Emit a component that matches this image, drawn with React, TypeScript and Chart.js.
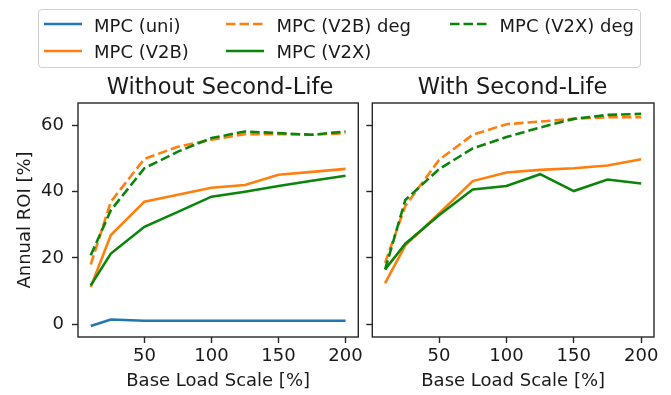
import React, { useEffect, useRef } from 'react';
import { Chart, registerables } from 'chart.js';

Chart.register(...registerables);

// ---------- data ----------
const X_VALUES = [10, 25, 50, 75, 100, 125, 150, 175, 200];

// Without Second-Life
const NOSL_UNI = [-0.6, 1.4, 1.0, 1.0, 1.0, 1.0, 1.0, 1.0, 1.0];
const NOSL_V2B = [11.2, 26.9, 37.0, 39.1, 41.2, 42.0, 45.1, 46.0, 46.9];
const NOSL_V2B_DEG = [18.0, 37.0, 49.9, 53.6, 55.7, 57.4, 57.4, 57.2, 57.7];
const NOSL_V2X = [11.7, 21.3, 29.4, 33.9, 38.5, 40.0, 41.7, 43.3, 44.8];
const NOSL_V2X_DEG = [20.8, 34.4, 47.1, 52.1, 56.2, 58.2, 57.7, 57.2, 58.2];

// With Second-Life
const SL_V2B = [12.4, 23.8, 33.4, 43.2, 45.8, 46.6, 47.1, 47.9, 49.8];
const SL_V2B_DEG = [18.5, 35.7, 49.6, 57.2, 60.4, 61.2, 62.0, 62.5, 62.5];
const SL_V2X = [16.5, 24.3, 32.9, 40.7, 41.7, 45.3, 40.2, 43.7, 42.5];
const SL_V2X_DEG = [16.5, 37.5, 46.8, 53.1, 56.5, 59.4, 62.0, 63.2, 63.5];

const X_TICKS = [50, 100, 150, 200];
const Y_TICKS = [0, 20, 40, 60];
const X_MIN = 0.5;
const X_MAX = 209.5;
const Y_MIN = -3.9;
const Y_MAX = 66.8;

const TITLE_LEFT = 'Without Second-Life';
const TITLE_RIGHT = 'With Second-Life';
const X_LABEL = 'Base Load Scale [%]';
const Y_LABEL = 'Annual ROI [%]';

const LABEL_UNI = 'MPC (uni)';
const LABEL_V2B = 'MPC (V2B)';
const LABEL_V2B_DEG = 'MPC (V2B) deg';
const LABEL_V2X = 'MPC (V2X)';
const LABEL_V2X_DEG = 'MPC (V2X) deg';

// ---------- styles ----------
const BLUE = '#1f77b4';
const ORANGE = '#ff7f0e';
const GREEN = '#0a850a';
const INK = '#262626';
const FONT = "'DejaVu Sans', sans-serif";
const LW = 2.6;
const DASH = [9.5, 4];

Chart.defaults.font.family = FONT;

const framePlugin = {
  id: 'frame',
  afterDraw(chart: any) {
    const { ctx, chartArea: a } = chart;
    ctx.save();
    ctx.strokeStyle = INK;
    ctx.lineWidth = 1.4;
    ctx.strokeRect(a.left, a.top, a.right - a.left, a.bottom - a.top);
    ctx.restore();
  },
};

function series(label: string, ys: number[], color: string, dashed: boolean, order: number) {
  return {
    label,
    data: X_VALUES.map((x, i) => ({ x, y: ys[i] })),
    borderColor: color,
    backgroundColor: color,
    borderWidth: LW,
    borderDash: dashed ? DASH : [],
    pointRadius: 0,
    pointHoverRadius: 0,
    fill: false,
    tension: 0,
    order,
  };
}

function makeConfig(datasets: any[], showY: boolean, yWidth: number, padRight: number) {
  return {
    type: 'line',
    data: { datasets },
    plugins: [framePlugin],
    options: {
      animation: false,
      responsive: false,
      maintainAspectRatio: false,
      events: [],
      layout: { padding: { top: 103, right: padRight, left: 0, bottom: 0 } },
      plugins: { legend: { display: false }, tooltip: { enabled: false }, title: { display: false } },
      scales: {
        x: {
          type: 'linear',
          min: X_MIN,
          max: X_MAX,
          afterBuildTicks: (s: any) => {
            s.ticks = X_TICKS.map((v) => ({ value: v }));
          },
          afterFit: (s: any) => {
            s.height = 58;
          },
          grid: {
            display: true,
            drawOnChartArea: false,
            drawTicks: true,
            tickLength: 6,
            tickWidth: 1.4,
            tickColor: INK,
          },
          border: { display: false },
          ticks: {
            color: '#1a1a1a',
            font: { size: 18 },
            padding: 3,
            maxRotation: 0,
            autoSkip: false,
          },
          title: {
            display: true,
            text: X_LABEL,
            color: '#1a1a1a',
            font: { size: 18 },
            padding: { top: 0, bottom: 3 },
          },
        },
        y: {
          type: 'linear',
          min: Y_MIN,
          max: Y_MAX,
          afterBuildTicks: (s: any) => {
            s.ticks = Y_TICKS.map((v) => ({ value: v }));
          },
          afterFit: (s: any) => {
            s.width = yWidth;
          },
          grid: {
            display: true,
            drawOnChartArea: false,
            drawTicks: true,
            tickLength: 6,
            tickWidth: 1.4,
            tickColor: INK,
          },
          border: { display: false },
          ticks: {
            display: showY,
            color: '#1a1a1a',
            font: { size: 18 },
            padding: 8,
            autoSkip: false,
          },
          title: {
            display: showY,
            text: Y_LABEL,
            color: '#1a1a1a',
            font: { size: 18 },
            padding: { top: 15, bottom: 0 },
          },
        },
      },
    },
  };
}

function Panel(props: { left: number; width: number; datasets: any[]; showY: boolean; yWidth: number; padRight: number }) {
  const ref = useRef<HTMLCanvasElement | null>(null);
  useEffect(() => {
    if (!ref.current) return;
    const chart = new Chart(ref.current, makeConfig(props.datasets, props.showY, props.yWidth, props.padRight) as any);
    return () => chart.destroy();
  }, []);
  return (
    <canvas
      ref={ref}
      width={props.width}
      height={395}
      style={{ position: 'absolute', left: props.left, top: 0, width: props.width, height: 395, display: 'block' }}
    />
  );
}

function Handle(props: { x: number; y: number; color: string; dashed: boolean }) {
  return (
    <svg
      width={40}
      height={8}
      style={{ position: 'absolute', left: props.x, top: props.y - 4, overflow: 'visible' }}
    >
      <line
        x1={0}
        y1={4}
        x2={38}
        y2={4}
        stroke={props.color}
        strokeWidth={LW}
        strokeDasharray={props.dashed ? DASH.join(' ') : undefined}
      />
    </svg>
  );
}

function LegendItem(props: { hx: number; tx: number; row: number; color: string; dashed: boolean; label: string }) {
  const cy = props.row === 0 ? 24 : 50.7;
  const top = props.row === 0 ? 15.5 : 42.2;
  return (
    <>
      <Handle x={props.hx} y={cy} color={props.color} dashed={props.dashed} />
      <span
        style={{
          position: 'absolute',
          left: props.tx,
          top,
          fontSize: 18,
          lineHeight: '20px',
          whiteSpace: 'nowrap',
          color: '#1a1a1a',
        }}
      >
        {props.label}
      </span>
    </>
  );
}

export default function App() {
  const leftSets = [
    series(LABEL_UNI, NOSL_UNI, BLUE, false, 4),
    series(LABEL_V2B, NOSL_V2B, ORANGE, false, 3),
    series(LABEL_V2B_DEG, NOSL_V2B_DEG, ORANGE, true, 2),
    series(LABEL_V2X, NOSL_V2X, GREEN, false, 1),
    series(LABEL_V2X_DEG, NOSL_V2X_DEG, GREEN, true, 0),
  ];
  const rightSets = [
    series(LABEL_V2B, SL_V2B, ORANGE, false, 3),
    series(LABEL_V2B_DEG, SL_V2B_DEG, ORANGE, true, 2),
    series(LABEL_V2X, SL_V2X, GREEN, false, 1),
    series(LABEL_V2X_DEG, SL_V2X_DEG, GREEN, true, 0),
  ];

  return (
    <div
      style={{
        position: 'fixed',
        left: 0,
        top: 0,
        width: 671,
        height: 395,
        background: '#fff',
        fontFamily: FONT,
        overflow: 'hidden',
      }}
    >
      <Panel left={0} width={366} datasets={leftSets} showY={true} yWidth={78} padRight={6} />
      <Panel left={366} width={305} datasets={rightSets} showY={false} yWidth={6.3} padRight={17} />

      <div
        style={{
          position: 'absolute',
          left: 70,
          width: 300,
          top: 72.5,
          textAlign: 'center',
          fontSize: 22.5,
          lineHeight: '26px',
          color: '#1a1a1a',
          whiteSpace: 'nowrap',
        }}
      >
        {TITLE_LEFT}
      </div>
      <div
        style={{
          position: 'absolute',
          left: 362.5,
          width: 300,
          top: 72.5,
          textAlign: 'center',
          fontSize: 22.5,
          lineHeight: '26px',
          color: '#1a1a1a',
          whiteSpace: 'nowrap',
        }}
      >
        {TITLE_RIGHT}
      </div>

      <div
        style={{
          position: 'absolute',
          left: 37.5,
          top: 8.5,
          width: 603,
          height: 59,
          border: '1px solid #d0d0d0',
          borderRadius: 4,
          boxSizing: 'border-box',
          background: 'rgba(255,255,255,0.8)',
        }}
      />
      <LegendItem hx={43.5} tx={94} row={0} color={BLUE} dashed={false} label={LABEL_UNI} />
      <LegendItem hx={43.5} tx={94} row={1} color={ORANGE} dashed={false} label={LABEL_V2B} />
      <LegendItem hx={226} tx={276.5} row={0} color={ORANGE} dashed={true} label={LABEL_V2B_DEG} />
      <LegendItem hx={226} tx={276.5} row={1} color={GREEN} dashed={false} label={LABEL_V2X} />
      <LegendItem hx={450} tx={499.5} row={0} color={GREEN} dashed={true} label={LABEL_V2X_DEG} />
    </div>
  );
}
